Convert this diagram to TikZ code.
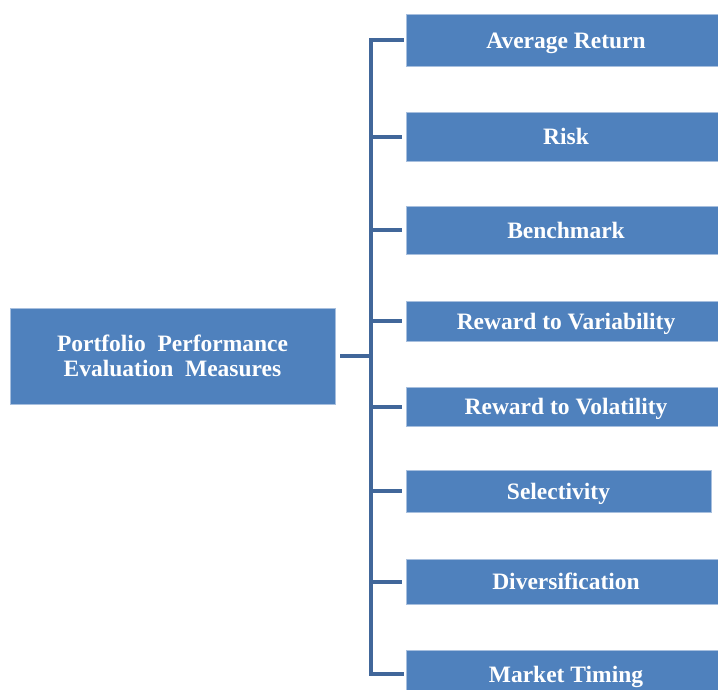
\documentclass[tikz,border=0pt]{standalone}
\usepackage{fontspec}
\setmainfont{Liberation Serif}
\definecolor{boxblue}{HTML}{4F81BD}
\definecolor{boxedge}{HTML}{A7BFDE}
\definecolor{linkblue}{HTML}{41679A}
\begin{document}
\begin{tikzpicture}[x=1pt,y=-1pt,
  mbox/.style={draw=boxedge, line width=0.8pt, fill=boxblue, text=white, inner sep=0pt,
    font=\fontsize{23.5}{24.5}\selectfont\bfseries, align=center},
  leaf/.style={mbox, text height=16pt, text depth=0pt, minimum width=320pt},
  link/.style={draw=linkblue, line width=4pt}]
\useasboundingbox (0,0) rectangle (718,689);
\node[mbox, minimum width=325pt, minimum height=96pt] (root) at (172.5,356) {Portfolio \ Performance\\Evaluation \ Measures};
\node[leaf, minimum height=52pt] (b1) at (566,40) {Average Return};
\node[leaf, minimum height=49pt] (b2) at (566,136.5) {Risk};
\node[leaf, minimum height=48pt] (b3) at (566,230) {Benchmark};
\node[leaf, minimum height=40pt] (b4) at (566,321) {Reward to Variability};
\node[leaf, minimum height=39pt] (b5) at (566,406.5) {Reward to Volatility};
\node[leaf, minimum width=305pt, minimum height=42pt] (b6) at (558.5,491) {Selectivity};
\node[leaf, minimum height=45pt] (b7) at (566,581.5) {Diversification};
\node[leaf, minimum height=48pt] (b8) at (566,674) {Market Timing};
\coordinate (top) at (371,40);
\coordinate (bot) at (371,674);
\draw[link] ([xshift=5pt]root.east) -- (371,356);
\draw[link, line cap=rect] ([xshift=-4pt]b1.west) -- (top) -- (bot) -- ([xshift=-4pt]b8.west);
\foreach \b in {b2,b3,b4,b5,b6,b7}
  \draw[link] (top |- \b.west) -- ([xshift=-4pt]\b.west);
\end{tikzpicture}
\end{document}
